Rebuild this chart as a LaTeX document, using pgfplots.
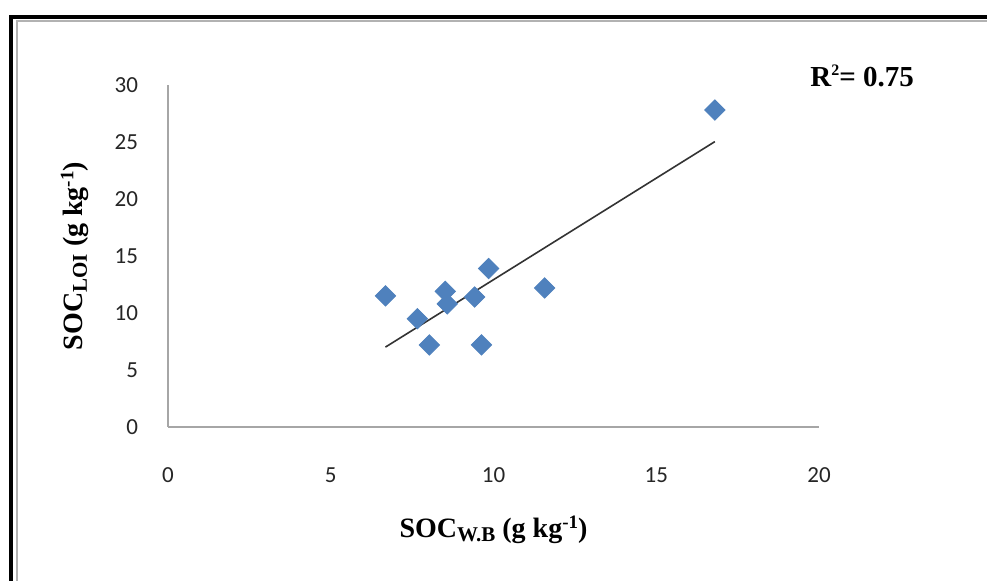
\documentclass[border=0pt]{standalone}
\usepackage{pgfplots}
\pgfplotsset{compat=1.18}
\usepackage{pgfplotstable}
\usepackage{fontspec}
\setmainfont{Liberation Serif}
\newfontfamily\calibri{Carlito}
\definecolor{markblue}{HTML}{4F81BD}
\definecolor{axisgray}{HTML}{A6A6A6}
\definecolor{ticktext}{HTML}{262626}

% SOC by Walkley-Black (x) vs SOC by loss on ignition (y)
\pgfplotstableread{
x y
6.68 11.5
7.66 9.5
8.03 7.2
8.52 11.9
8.58 10.8
9.42 11.4
9.85 13.9
9.63 7.2
11.57 12.2
16.80 27.8
}\soctable

\newcommand{\sub}[1]{\raisebox{-0.3ex}{\fontsize{10.5}{12}\selectfont #1}}
\newcommand{\sups}[1]{\raisebox{0.75ex}{\fontsize{9.5}{11}\selectfont #1}}

\begin{document}
\begin{tikzpicture}
% page = 987 x 581 px, 1px = 0.5pt, origin at top left
\useasboundingbox (0,0) rectangle (493.5pt,-290.5pt);
\fill[white] (0,0) rectangle (493.5pt,-290.5pt);
% frame (cut off at right and bottom)
\draw[line width=2pt,black] (5.25pt,-290.5pt) -- (5.25pt,-8.5pt) -- (493.5pt,-8.5pt);
\draw[line width=0.6pt,gray!60] (8.5pt,-290.5pt) -- (8.5pt,-10.5pt) -- (493.5pt,-10.5pt);

\begin{axis}[
    at={(84pt,-213.5pt)}, anchor=south west,
    scale only axis, width=325.5pt, height=171pt,
    xmin=0, xmax=20, ymin=0, ymax=30,
    xtick={0,5,...,20}, ytick={0,5,...,30},
    axis lines=left,
    axis line style={-, axisgray, line width=1pt},
    major tick length=0pt,
    tick label style={font=\calibri\fontsize{11.5}{13}\selectfont, text=ticktext},
    /pgf/number format/assume math mode=true,
    xticklabel style={yshift=-17pt},
    yticklabel style={xshift=-11.5pt},
    xlabel={\fontsize{14}{16}\selectfont\bfseries SOC\sub{W.B} (g kg\sups{-1})},
    ylabel={\fontsize{14}{16}\selectfont\bfseries SOC\sub{LOI} (g kg\sups{-1})},
    every axis x label/.style={at={(rel axis cs:0.5,0)}, anchor=center, yshift=-51.5pt},
    every axis y label/.style={at={(rel axis cs:0,0.5)}, anchor=center, rotate=90, yshift=46.5pt},
    clip=false,
]
\addplot[only marks, mark=square*, mark size=3.6pt,
    mark options={rotate=45, fill=markblue, draw=markblue}] table[x=x, y=y] {\soctable};
\addplot[no marks, line width=0.8pt, black!80]
    table[x=x, y={create col/linear regression={y=y}}] {\soctable};
\end{axis}

\node[anchor=base west, font=\bfseries\fontsize{14.5}{16}\selectfont, inner sep=0pt]
    at (405pt,-43.5pt) {R\raisebox{0.9ex}{\fontsize{8}{8}\selectfont 2}= 0.75};
\end{tikzpicture}
\end{document}
